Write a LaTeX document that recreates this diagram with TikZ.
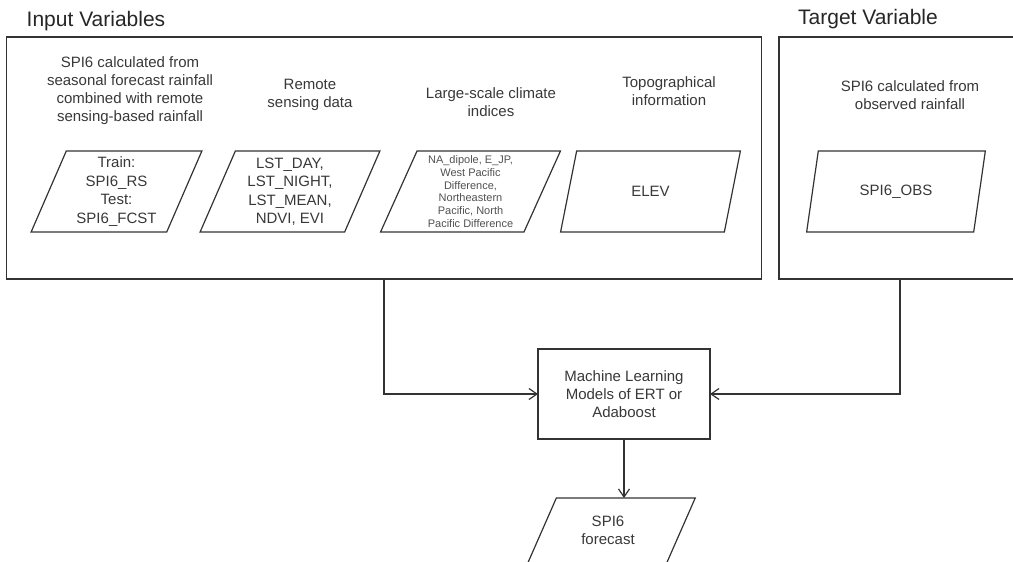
\documentclass[tikz,border=0pt]{standalone}
\usepackage{fontspec}
\setmainfont{Liberation Sans}
\usetikzlibrary{arrows.meta, shapes.geometric}

\definecolor{ink}{HTML}{333333}
\definecolor{txt}{HTML}{383838}
\definecolor{softtxt}{HTML}{505050}

\tikzset{
	bigbox/.style={draw=ink, line width=1.4pt, rectangle, inner sep=0, outer sep=0},
	databox/.style={draw=ink, line width=1.2pt, trapezium, trapezium left angle=68,
		trapezium right angle=112, trapezium stretches=true, minimum width=180pt,
		minimum height=81pt, inner sep=0, outer sep=0, text=txt, align=center,
		font=\fontsize{15}{18.5}\selectfont},
	modelbox/.style={draw=ink, line width=1.2pt, rectangle, minimum width=172pt,
		minimum height=90pt, inner sep=0, outer sep=0, text=txt, align=center,
		font=\fontsize{15}{18}\selectfont},
	head/.style={inner sep=0, text=txt, align=center, font=\fontsize{15}{18}\selectfont},
	title/.style={inner sep=0, text=black!85, font=\fontsize{21}{24}\selectfont},
	arr/.style={draw=ink, line width=1.2pt, -{Straight Barb[length=8pt,width=11pt]}}
}

\begin{document}
\begin{tikzpicture}[x=1pt, y=-1pt]
	\clip (0,0) rectangle (1013,562);						%page frame

	% the two panels
	\node[bigbox, minimum width=755pt, minimum height=242pt] (inbox) at (384,158) {};
	\node[bigbox, minimum width=242pt, minimum height=242pt] (tgbox) at (900,158) {};
	\node[title] (intitle) at (96,21) {Input Variables};
	\node[title] (tgtitle) at (868,19) {Target Variable};

	% column headings
	\node[head] (h1) at (130,91) {SPI6 calculated from\\seasonal forecast rainfall\\combined with remote\\sensing-based rainfall};
	\node[head] (h2) at (310,95) {Remote\\sensing data};
	\node[head] (h3) at (491,102) {Large-scale climate\\indices};
	\node[head] (h4) at (669,91) {Topographical\\information};
	\node[head] (h5) at (910,95) {SPI6 calculated from\\observed rainfall};

	% input data
	\node[databox, minimum width=171pt] (spi) at (116.5,191.5) {Train:\\SPI6\_RS\\Test:\\SPI6\_FCST};
	\node[databox] (rs) at (290,191.5) {LST\_DAY,\\LST\_NIGHT,\\LST\_MEAN,\\NDVI, EVI};
	\node[databox, text=softtxt, font=\fontsize{11}{12.8}\selectfont] (clim) at (470.5,191.5)
		{NA\_dipole, E\_JP,\\West Pacific\\Difference,\\Northeastern\\Pacific, North\\Pacific Difference};
	\node[databox] (elev) at (650.5,191.5) {ELEV};
	\node[databox] (obs) at (896,191.5) {SPI6\_OBS};

	% model and result
	\node[modelbox] (ml) at (624,394) {Machine Learning\\Models of ERT or\\Adaboost};
	\node[databox, minimum width=176pt, text depth=17pt, font=\fontsize{15}{18}\selectfont] (fcst) at (608,538.5) {SPI6\\forecast};

	\draw[arr] (inbox.south) |- (ml.west);
	\draw[arr] (tgbox.south) |- (ml.east);
	\draw[arr] (ml.south) -- (ml.south |- fcst.north);
\end{tikzpicture}
\end{document}
